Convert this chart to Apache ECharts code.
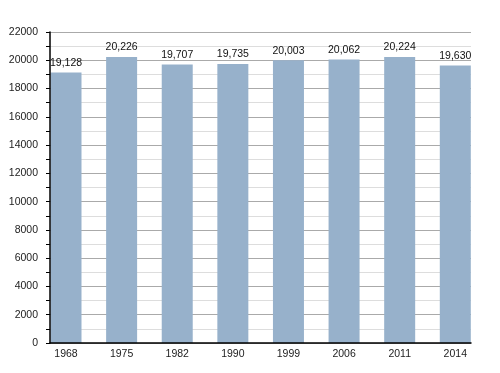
<!DOCTYPE html>
<html><head><meta charset="utf-8">
<script src="https://cdn.jsdelivr.net/npm/echarts@6/dist/echarts.min.js"></script>
<style>html,body{margin:0;padding:0;background:#fff}#c{width:500px;height:373px}</style>
</head><body><div id="c"></div>
<script>
const categories = ['1968','1975','1982','1990','1999','2006','2011','2014'];
const populations = [19128, 20226, 19707, 19735, 20003, 20062, 20224, 19630];
const yMin = 0, yMax = 22000, yStep = 2000;

const font = 'Liberation Sans, Arial, Helvetica, sans-serif';
const chart = echarts.init(document.getElementById('c'), null, {renderer:'canvas'});
chart.setOption({
  animation:false,
  backgroundColor:'#fff',
  grid:[
    {left:50, right:29, top:32, bottom:30, containLabel:false},
    {left:38.2, right:16.9, top:32, bottom:30, containLabel:false}
  ],
  xAxis:[
    {gridIndex:0, type:'value', min:0, max:1, z:10, position:'bottom', axisLine:{show:true, lineStyle:{color:'#000', width:1.5}},
     axisTick:{show:false}, axisLabel:{show:false}, splitLine:{show:false}},
    {gridIndex:1, type:'category', data:categories, position:'bottom', axisLine:{show:false}, axisTick:{show:false},
     axisLabel:{color:'#222', fontSize:10.5, fontFamily:font, margin:6}}
  ],
  yAxis:[
    {gridIndex:0, type:'value', min:yMin, max:yMax, interval:yStep, position:'left',
     axisLine:{show:false},
     axisTick:{show:true, length:4, lineStyle:{color:'#000'}},
     minorTick:{show:true, splitNumber:2, length:4, lineStyle:{color:'#000'}},
     axisLabel:{color:'#222', fontSize:10.5, fontFamily:font, margin:12, formatter:v=>String(v)},
     splitLine:{show:true, lineStyle:{color:'#aaaaaa', width:1}},
     minorSplitLine:{show:true, lineStyle:{color:'#dddddd', width:1}}},
    {gridIndex:1, type:'value', min:yMin, max:yMax, show:false, splitLine:{show:false}},
    {gridIndex:0, type:'value', min:yMin, max:yMax, z:10, position:'left', offset:0,
     axisLine:{show:true, lineStyle:{color:'#000', width:1.5}},
     axisTick:{show:false}, axisLabel:{show:false}, splitLine:{show:false}}
  ],
  series:[{
    type:'bar', xAxisIndex:1, yAxisIndex:1, data:populations, barWidth:31, z:2,
    itemStyle:{color:'#97b1cb'},
    label:{show:true, position:'top', distance:4, color:'#111', fontSize:10.5, fontFamily:font,
      formatter:p=>p.value.toLocaleString('en-US')}
  }]
});
</script></body></html>
